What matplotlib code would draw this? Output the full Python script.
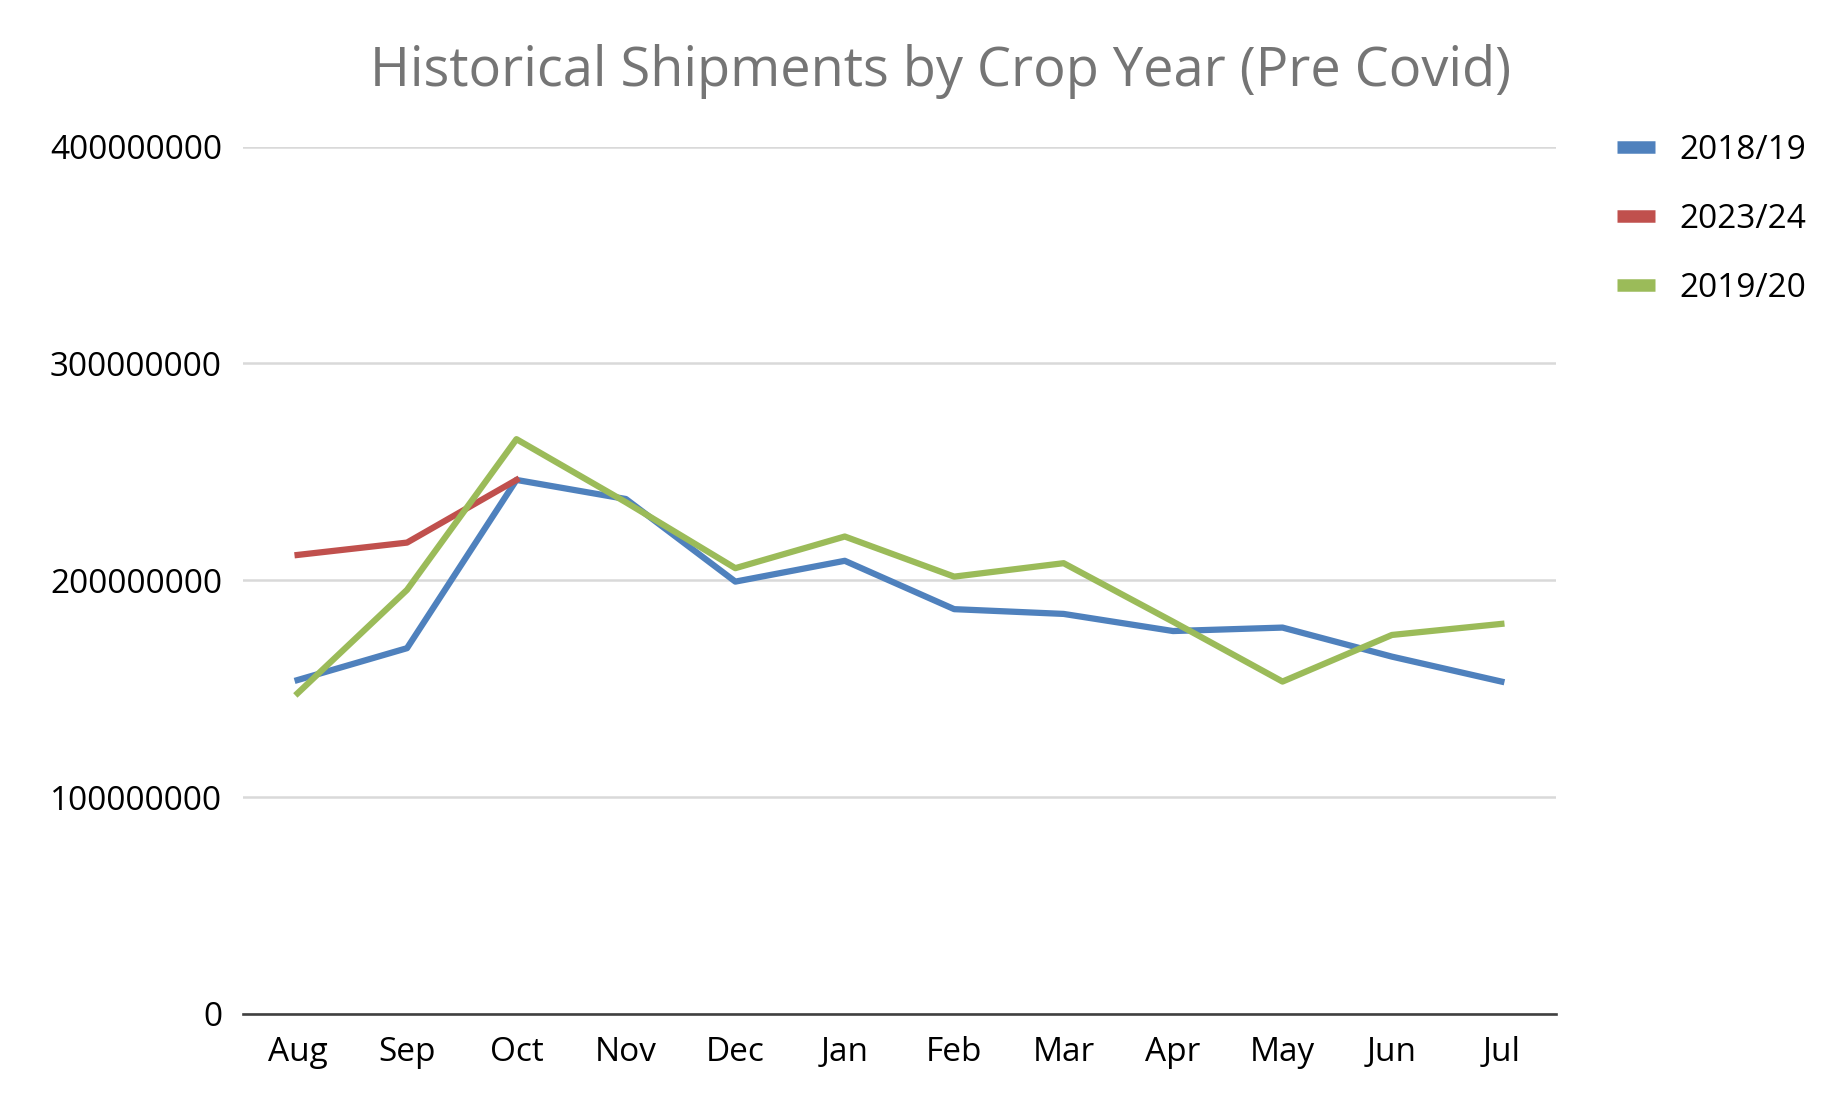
import numpy as np
import matplotlib.pyplot as plt

months = ['Aug', 'Sep', 'Oct', 'Nov', 'Dec', 'Jan', 'Feb', 'Mar', 'Apr', 'May', 'Jun', 'Jul']
ship_2018_19 = [154.0e6, 168.7e6, 246.3e6, 237.5e6, 199.4e6, 209.0e6, 186.7e6, 184.5e6, 176.6e6, 178.2e6, 164.8e6, 153.3e6]
ship_2023_24 = [211.7e6, 217.4e6, 246.3e6]
ship_2019_20 = [147.9e6, 195.6e6, 265.1e6, 236.0e6, 205.6e6, 220.2e6, 201.7e6, 207.9e6, 180.9e6, 153.3e6, 174.8e6, 179.9e6]
series_names = ['2018/19', '2023/24', '2019/20']
yticks = [0, 100000000, 200000000, 300000000, 400000000]

plt.rcParams['font.family'] = ['Open Sans', 'DejaVu Sans']

fig = plt.figure(figsize=(18.4, 11.02), dpi=100)
ax = fig.add_axes([0.132, 0.0799, 0.7137, 0.787])

x = np.arange(len(months))
ax.plot(x, ship_2018_19, color='#4F81BD', lw=4.5, label=series_names[0])
ax.plot(x[:len(ship_2023_24)], ship_2023_24, color='#C0504D', lw=4.5, label=series_names[1])
ax.plot(x, ship_2019_20, color='#9BBB59', lw=4.5, label=series_names[2])

ax.set_xlim(-0.5, 11.5)
ax.set_ylim(0, 400000000)
ax.set_xticks(x)
ax.set_xticklabels(months)
ax.set_yticks(yticks)
ax.set_yticklabels([str(v) for v in yticks])
ax.tick_params(axis='both', length=0, labelsize=24, labelcolor='#000000')
ax.tick_params(axis='x', pad=16)
ax.tick_params(axis='y', pad=15)
ax.grid(axis='y', color='#D9D9D9', lw=1.8)
ax.set_axisbelow(True)
for s in ['left', 'right', 'top']:
    ax.spines[s].set_visible(False)
ax.spines['bottom'].set_color('#404040')
ax.spines['bottom'].set_linewidth(1.9)
ax.spines['bottom'].set_zorder(1)

fig.text(0.511, 0.935, 'Historical Shipments by Crop Year (Pre Covid)', ha='center', va='center',
         fontsize=39, color='#757575')

leg = ax.legend(loc='upper left', bbox_to_anchor=(0.8625, 0.9056), bbox_transform=fig.transFigure,
                frameon=False, fontsize=24, handlelength=1.13, handletextpad=0.75, labelspacing=1.08)
for h in leg.get_lines():
    h.set_linewidth(9)
    h.set_solid_capstyle('butt')

plt.savefig('out.png', dpi=100)
